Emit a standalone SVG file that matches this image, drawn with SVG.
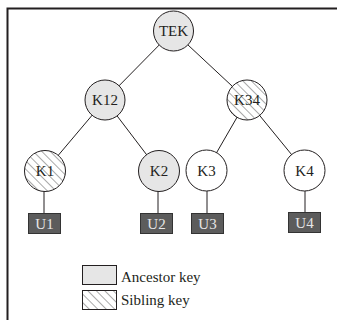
<svg xmlns="http://www.w3.org/2000/svg" width="337" height="320" viewBox="0 0 337 320">
  <style>
    .frame { stroke: #231f20; stroke-width: 2; fill: none; }
    .edge { stroke: #231f20; stroke-width: 1; fill: none; }
    .key { stroke: #231f20; stroke-width: 1; }
    .anc { fill: #e6e6e6; }
    .plain { fill: #ffffff; }
    .unit { fill: #5c5c5c; stroke: #333333; stroke-width: 1; }
    .lbl { font-family: "Liberation Serif", "Times New Roman", serif; font-size: 15px; fill: #231f20; text-anchor: middle; }
    .ulbl { font-family: "Liberation Serif", "Times New Roman", serif; font-size: 15px; fill: #e6e6e6; text-anchor: middle; }
    .leg { font-family: "Liberation Serif", "Times New Roman", serif; font-size: 15px; fill: #231f20; }
  </style>
  <defs>
    <pattern id="hatch" patternUnits="userSpaceOnUse" width="6" height="6" patternTransform="rotate(-45)">
      <rect width="6" height="6" fill="#ffffff"/>
      <line x1="0" y1="0" x2="0" y2="6" stroke="#555555" stroke-width="1"/>
    </pattern>
  </defs>

  <rect width="337" height="320" fill="#ffffff"/>
  <!-- open frame: top and left sides -->
  <path class="frame" d="M337 8.5 H7.5 V320"/>

  <g id="connectors">
    <line class="edge" x1="173" y1="31" x2="105" y2="100"/>
    <line class="edge" x1="173" y1="31" x2="247" y2="100"/>
    <line class="edge" x1="105" y1="100" x2="45" y2="171"/>
    <line class="edge" x1="105" y1="100" x2="159" y2="171"/>
    <line class="edge" x1="247" y1="100" x2="206" y2="171"/>
    <line class="edge" x1="247" y1="100" x2="305" y2="171"/>
    <line class="edge" x1="44" y1="171" x2="44" y2="213"/>
    <line class="edge" x1="158" y1="171" x2="158" y2="213"/>
    <line class="edge" x1="207" y1="171" x2="207" y2="213"/>
    <line class="edge" x1="305" y1="171" x2="305" y2="212"/>
  </g>

  <g id="TEK">
    <circle class="key anc" cx="173.5" cy="31" r="20"/>
    <text class="lbl" x="173.5" y="36">TEK</text>
  </g>
  <g id="K12">
    <circle class="key anc" cx="105" cy="100" r="20"/>
    <text class="lbl" x="105" y="105">K12</text>
  </g>
  <g id="K34">
    <circle class="key" fill="url(#hatch)" cx="247" cy="100" r="20"/>
    <text class="lbl" x="247" y="105">K34</text>
  </g>
  <g id="K1">
    <circle class="key" fill="url(#hatch)" cx="45" cy="171" r="20.5"/>
    <text class="lbl" x="45" y="176">K1</text>
  </g>
  <g id="K2">
    <circle class="key anc" cx="159" cy="171" r="20.5"/>
    <text class="lbl" x="159" y="176">K2</text>
  </g>
  <g id="K3">
    <circle class="key plain" cx="206.5" cy="170.5" r="20.5"/>
    <text class="lbl" x="206.5" y="175.5">K3</text>
  </g>
  <g id="K4">
    <circle class="key plain" cx="304.5" cy="170.5" r="20.5"/>
    <text class="lbl" x="304.5" y="175.5">K4</text>
  </g>

  <g id="U1">
    <rect class="unit" x="28.5" y="213.5" width="32" height="20"/>
    <text class="ulbl" x="44.5" y="229">U1</text>
  </g>
  <g id="U2">
    <rect class="unit" x="140.5" y="213.5" width="32" height="20"/>
    <text class="ulbl" x="156.5" y="229">U2</text>
  </g>
  <g id="U3">
    <rect class="unit" x="191.5" y="213.5" width="32" height="20"/>
    <text class="ulbl" x="207.5" y="229">U3</text>
  </g>
  <g id="U4">
    <rect class="unit" x="288.5" y="212.5" width="32" height="20"/>
    <text class="ulbl" x="304.5" y="228">U4</text>
  </g>

  <g id="legend">
    <rect class="key anc" x="82.5" y="265.5" width="34" height="19"/>
    <text class="leg" x="121" y="282">Ancestor key</text>
    <rect class="key" fill="url(#hatch)" x="82.5" y="290.5" width="34" height="19"/>
    <text class="leg" x="121" y="305">Sibling key</text>
  </g>
</svg>
